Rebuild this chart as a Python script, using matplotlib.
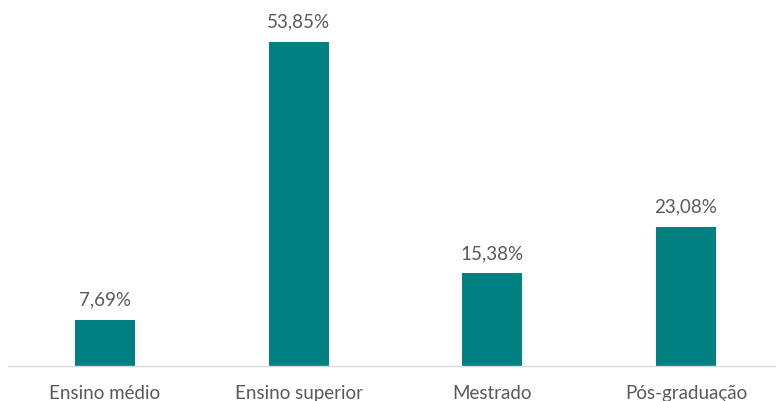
import matplotlib.pyplot as plt

# data
categories = ['Ensino médio', 'Ensino superior', 'Mestrado', 'Pós-graduação']
values = [7.69, 53.85, 15.38, 23.08]
labels = ['7,69%', '53,85%', '15,38%', '23,08%']

bar_color = '#008080'
text_color = '#595959'

plt.rcParams['font.family'] = ['Lato', 'DejaVu Sans']

fig = plt.figure(figsize=(7.76, 4.02), dpi=100)
ax = fig.add_axes([8 / 776, 35 / 402, 768 / 776, 361 / 402])

x = range(len(categories))
bars = ax.bar(x, values, width=0.31, color=bar_color, zorder=2)

# value labels above each bar
for bar, lab in zip(bars, labels):
    ax.annotate(lab, (bar.get_x() + bar.get_width() / 2, bar.get_height()),
                xytext=(0, 11), textcoords='offset points', ha='center', va='baseline',
                fontsize=13.5, color=text_color)

ax.set_xlim(-0.5, 3.465)
ax.set_ylim(0, 60)
ax.set_xticks(list(x))
ax.set_xticklabels(categories, fontsize=13.5, color=text_color)
ax.tick_params(axis='x', length=0, pad=13)
ax.set_yticks([])

for side in ['top', 'right', 'left']:
    ax.spines[side].set_visible(False)
ax.spines['bottom'].set_color('#d9d9d9')
ax.spines['bottom'].set_linewidth(1.0)

fig.savefig('out.png', dpi=100)
